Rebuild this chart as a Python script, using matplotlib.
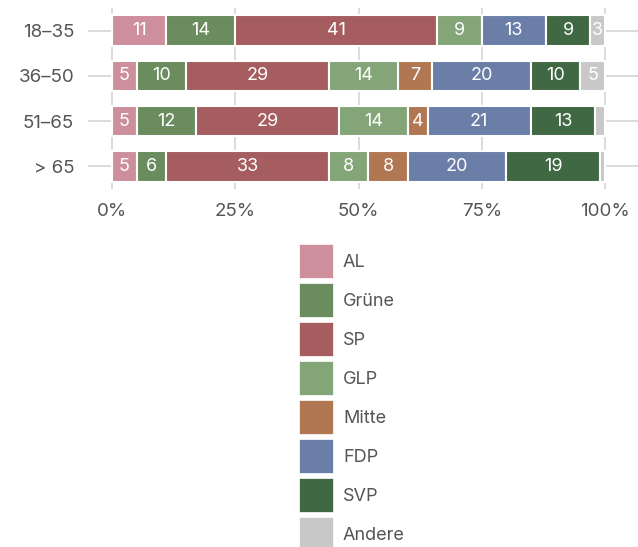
import matplotlib.pyplot as plt
from matplotlib.patches import Patch
import numpy as np

plt.rcParams['font.family'] = ['Inter', 'DejaVu Sans']

groups = ["18–35", "36–50", "51–65", "> 65"]
parties = ["AL", "Grüne", "SP", "GLP", "Mitte", "FDP", "SVP", "Andere"]
colors = ["#cd8f9b", "#6a8c5e", "#a55d60", "#84a578",
          "#b17753", "#6a7ea7", "#3f6843", "#c8c8c8"]

al = [11, 5, 5, 5]
gruene = [14, 10, 12, 6]
sp = [41, 29, 29, 33]
glp = [9, 14, 14, 8]
mitte = [0, 7, 4, 8]
fdp = [13, 20, 21, 20]
svp = [9, 10, 13, 19]
andere = [3, 5, 2, 1]

series = [al, gruene, sp, glp, mitte, fdp, svp, andere]

fig = plt.figure(figsize=(6.38, 5.47), dpi=100)
ax = fig.add_axes([88 / 638, 1 - 189 / 547, 550 / 638, 181 / 547])

y = np.arange(len(groups))
left = np.zeros(len(groups))
for vals, c in zip(series, colors):
    vals = np.array(vals, dtype=float)
    ax.barh(y, vals, left=left, height=0.67, color=c,
            edgecolor="white", linewidth=1.5, zorder=3)
    for yi, v, l in zip(y, vals, left):
        if v >= 3:
            ax.text(l + v / 2, yi, f"{int(v)}", ha="center", va="center",
                    color="white", fontsize=13, zorder=4)
    left += vals

ax.set_xlim(-4.9, 106.7)
ax.set_ylim(3.5, -0.5)
ax.set_yticks(y)
ax.set_yticklabels(groups)
ax.set_xticks([0, 25, 50, 75, 100])
ax.set_xticklabels(["0%", "25%", "50%", "75%", "100%"])
ax.tick_params(length=0, labelsize=13.5, colors="#555555")
ax.tick_params(axis="y", pad=10)
ax.tick_params(axis="x", pad=10)
ax.grid(True, color="#dcdcdc", linewidth=1.4, zorder=0)
ax.set_axisbelow(True)
for s in ax.spines.values():
    s.set_visible(False)

handles = [Patch(facecolor=c, edgecolor="white", linewidth=0.5) for c in colors]
fig.legend(handles, parties, loc="upper left",
           bbox_to_anchor=(290 / 638, 1 - 235 / 547), frameon=False,
           fontsize=13, handlelength=1.88, handleheight=2.52,
           labelspacing=0.28, handletextpad=0.55, borderpad=0,
           labelcolor="#555555")

fig.savefig("out.png", dpi=100)
